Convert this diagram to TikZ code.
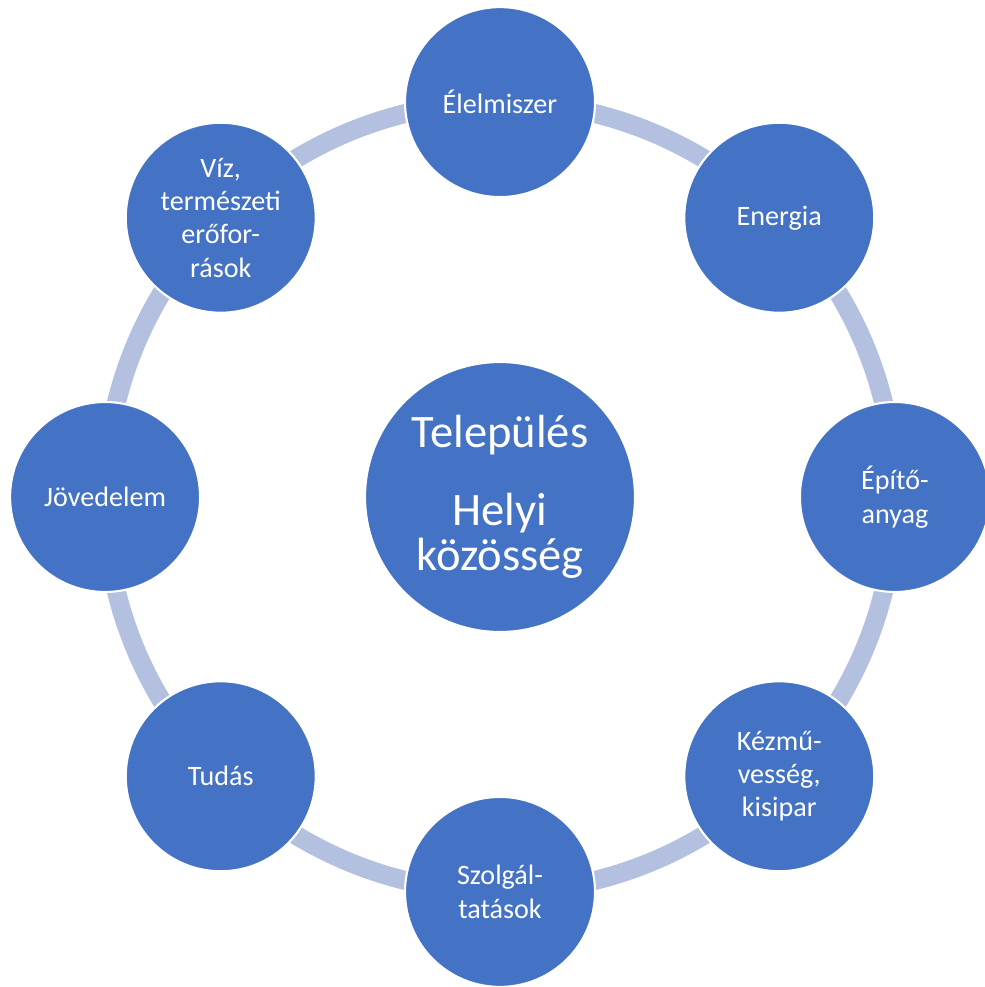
\documentclass[tikz,border=0pt]{standalone}
\usepackage{fontspec}
\setmainfont{Carlito}
\usetikzlibrary{calc}
\definecolor{disk}{HTML}{4472C4}
\definecolor{ringcol}{HTML}{B4C0E0}
\tikzset{
  small/.style={circle,fill=disk,draw=white,line width=1.2pt,minimum size=3.8cm,
    inner sep=0pt,text=white,align=center,font=\fontsize{16}{19}\selectfont},
  big/.style={small,minimum size=5.4cm,font=\fontsize{26.5}{25.5}\selectfont},
  ringline/.style={draw=ringcol,line width=0.38cm}
}
\begin{document}
\begin{tikzpicture}[x=0.02cm,y=-0.02cm]
  \useasboundingbox (0,0) rectangle (984,987);
  \coordinate (C) at (500,497);
  % the ring behind everything
  \draw[ringline] (C) circle (7.9cm);
  \node[big] (hub) at (C) {Település\\[19pt]Helyi\\közösség};
  \foreach \a/\n/\t in {90/elel/{Élelmiszer}, 45/energ/{Energia}, 0/epito/{Építő-\\anyag},
      -45/kezmu/{Kézmű-\\vesség,\\kisipar}, -90/szolg/{Szolgál-\\tatások}, -135/tudas/{Tudás},
      180/jov/{Jövedelem}, 135/viz/{Víz,\\természeti\\erőfor-\\rások}}
    \node[small] (\n) at ($(C)+(\a:7.9cm)$) {\t};
\end{tikzpicture}
\end{document}
